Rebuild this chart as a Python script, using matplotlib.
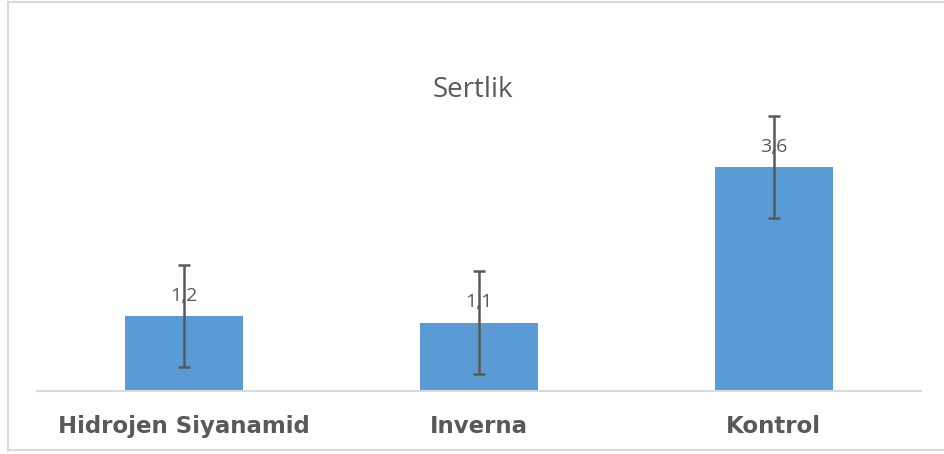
import matplotlib
matplotlib.use("Agg")
import matplotlib.pyplot as plt
from matplotlib.lines import Line2D

categories = ["Hidrojen Siyanamid", "Inverna", "Kontrol"]
values = [1.2, 1.1, 3.6]
errors = [0.82, 0.83, 0.82]
value_labels = ["1,2", "1,1", "3,6"]
title = "Sertlik"

W, H, DPI = 945, 454, 100
fig = plt.figure(figsize=(W / DPI, H / DPI), dpi=DPI)
fig.patch.set_facecolor("white")

# outer frame (left, top, bottom lines; right edge beyond image)
fc = "#d9d9d9"
fig.add_artist(Line2D([8 / W, 8 / W], [1 - 1.5 / H, 1 - 450 / H], transform=fig.transFigure, color=fc, lw=1.5))
fig.add_artist(Line2D([8 / W, 1.01], [1 - 1.5 / H, 1 - 1.5 / H], transform=fig.transFigure, color=fc, lw=1.5))
fig.add_artist(Line2D([8 / W, 1.01], [1 - 450 / H, 1 - 450 / H], transform=fig.transFigure, color=fc, lw=1.5))

base_px = 391
px_per_unit = 62.2
ymax = 4.5
top_px = base_px - ymax * px_per_unit
ax = fig.add_axes([37 / W, 1 - base_px / H, (921 - 37) / W, (base_px - top_px) / H])
ax.set_xlim(-0.5, 2.5)
ax.set_ylim(0, ymax)

x = list(range(len(categories)))
ax.bar(x, values, width=0.4, color="#5b9bd5", zorder=2)
for xi, v, lab in zip(x, values, value_labels):
    ax.annotate(lab, (xi, v), xytext=(0, 14.5), textcoords="offset points",
                ha="center", va="center", fontsize=14, color="#595959",
                family=["Open Sans", "DejaVu Sans"], zorder=3)
ax.errorbar(x, values, yerr=errors, fmt="none", ecolor="#595959",
            elinewidth=1.8, capsize=4.3, capthick=1.8, zorder=4)

for s in ["top", "right", "left"]:
    ax.spines[s].set_visible(False)
ax.spines["bottom"].set_color("#d9d9d9")
ax.spines["bottom"].set_linewidth(1.5)
ax.set_yticks([])
ax.set_xticks(x)
ax.set_xticklabels(categories, fontsize=16.5, fontweight="bold", color="#595959",
                   family=["Liberation Sans Narrow", "DejaVu Sans"])
ax.tick_params(axis="x", length=0, pad=17)

fig.text(473 / W, 1 - 90 / H, title, ha="center", va="center", fontsize=20,
         color="#595959", family=["Open Sans", "DejaVu Sans"])

fig.savefig("out.png", dpi=DPI, facecolor="white")
